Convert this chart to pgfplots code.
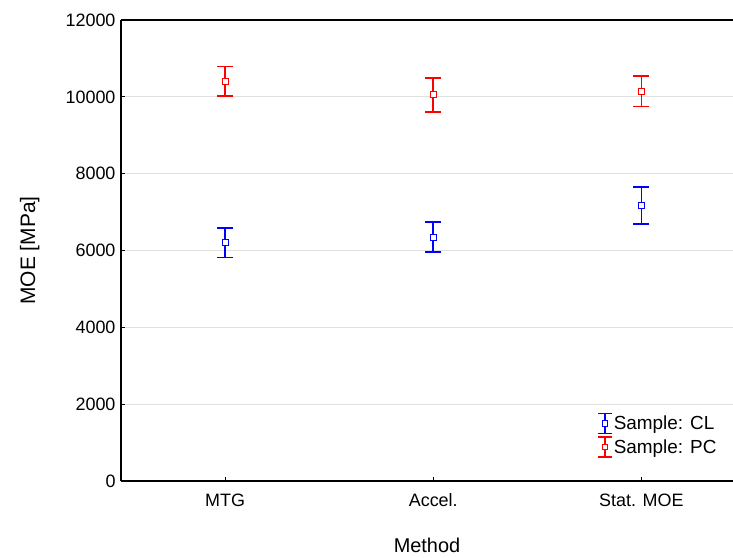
\documentclass[border=0pt]{standalone}
\usepackage{pgfplots}
\pgfplotsset{compat=1.18}
\usepackage{fontspec}
\setmainfont{Liberation Sans}

\begin{document}
\begin{tikzpicture}
\begin{axis}[
  name=ax,
  scale only axis, width=612bp, height=461bp,
  xmin=0.5, xmax=3.44, ymin=0, ymax=12000,
  axis x line*=box, axis y line*=left,
  axis line style={line width=1.2bp},
  xtick={1,2,3}, xticklabels={MTG, Accel., Stat. MOE},
  xtick pos=bottom, ytick pos=left,
  ytick={0,2000,...,12000},
  tick align=inside, major tick length=4bp,
  tick style={black, line width=1bp},
  scaled y ticks=false,
  yticklabel style={/pgf/number format/1000 sep={}, xshift=-2bp},
  xticklabel style={yshift=-9bp},
  /pgf/number format/assume math mode=true,
  tick label style={font=\fontsize{18}{20}\selectfont},
  ymajorgrids, grid style={gray!25, line width=0.8bp},
  xlabel={Method}, ylabel={MOE [MPa]},
  every axis x label/.style={at={(axis description cs:0.5,-0.14)}, anchor=center,
    font=\fontsize{20}{22}\selectfont},
  every axis y label/.style={at={(axis description cs:-0.149,0.5)}, anchor=center, rotate=90,
    font=\fontsize{21}{23}\selectfont},
  legend style={at={(0.975,0.05)}, anchor=south east, draw=none, fill=none,
    font=\fontsize{19}{21}\selectfont, inner sep=0pt, row sep=2bp,
    nodes={inner sep=1bp}},
  legend cell align=left,
]
\addplot[blue, only marks, mark=square*, mark size=3bp,
  mark options={fill=white, solid, line width=1bp},
  legend image code/.code={
    \draw[blue, line width=1.5bp] (0bp,-10bp)--(0bp,10bp) (-7bp,-10bp)--(7bp,-10bp) (-7bp,10bp)--(7bp,10bp);
    \draw[blue, fill=white, line width=1bp] (-2.5bp,-2.5bp) rectangle (2.5bp,2.5bp);},
  error bars/.cd, y dir=both, y explicit,
  error bar style={line width=1.8bp},
  error mark options={rotate=90, mark size=8bp, line width=1.8bp}]
  coordinates {(1,6200) +- (0,380) (2,6350) +- (0,390) (3,7180) +- (0,480)};
\addlegendentry{Sample: CL}
\addplot[red, only marks, mark=square*, mark size=3bp,
  mark options={fill=white, solid, line width=1bp},
  legend image code/.code={
    \draw[red, line width=1.5bp] (0bp,-10bp)--(0bp,10bp) (-7bp,-10bp)--(7bp,-10bp) (-7bp,10bp)--(7bp,10bp);
    \draw[red, fill=white, line width=1bp] (-2.5bp,-2.5bp) rectangle (2.5bp,2.5bp);},
  error bars/.cd, y dir=both, y explicit,
  error bar style={line width=1.8bp},
  error mark options={rotate=90, mark size=8bp, line width=1.8bp}]
  coordinates {(1,10410) +- (0,380) (2,10050) +- (0,450) (3,10150) +- (0,400)};
\addlegendentry{Sample: PC}
\end{axis}
\pgfresetboundingbox
\path[use as bounding box] ([xshift=-121bp,yshift=-77bp]ax.south west) rectangle ([yshift=20bp]ax.north east);
\end{tikzpicture}
\end{document}
